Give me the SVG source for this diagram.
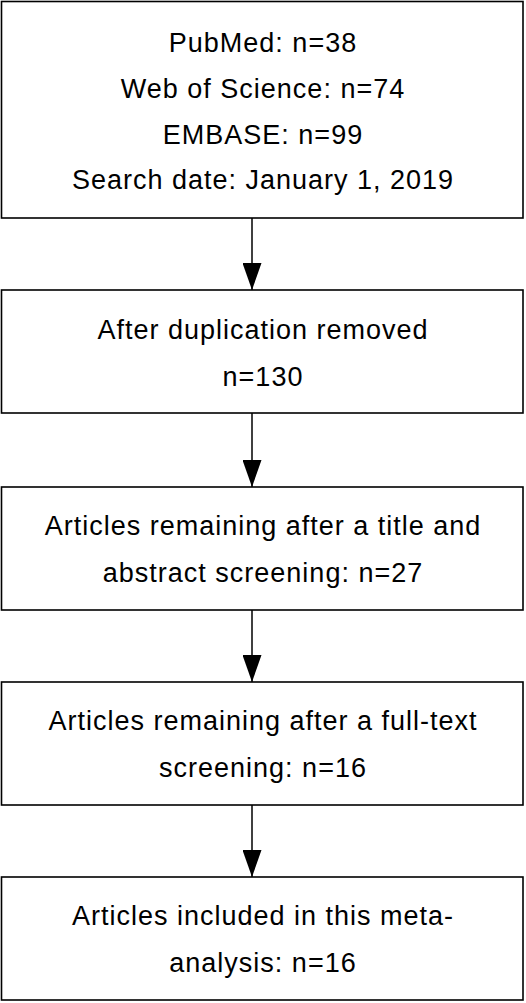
<svg xmlns="http://www.w3.org/2000/svg" width="526" height="1003" viewBox="0 0 526 1003">
<defs>
<style>
.box{fill:#fff;stroke:#000;stroke-width:1.6}
.t{font-family:"Liberation Sans",Arial,sans-serif;font-size:27px;letter-spacing:1px;fill:#000;text-anchor:middle}
.c{stroke:#000;stroke-width:1.5;fill:none}
</style>
<marker id="ah" markerUnits="userSpaceOnUse" markerWidth="27" markerHeight="19" refX="27" refY="9.5" orient="auto" viewBox="0 0 27 19">
<path d="M0,0 L27,9.5 L0,19 Z" fill="#000"/>
</marker>
</defs>
<rect width="526" height="1003" fill="#fff"/>
<g id="connectors">
<line class="c" x1="252" y1="218" x2="252" y2="290" marker-end="url(#ah)"/>
<line class="c" x1="252" y1="413" x2="252" y2="487" marker-end="url(#ah)"/>
<line class="c" x1="252" y1="610" x2="252" y2="682" marker-end="url(#ah)"/>
<line class="c" x1="252" y1="805" x2="252" y2="877" marker-end="url(#ah)"/>
</g>
<g id="n1">
<rect class="box" x="1.5" y="1.5" width="521.5" height="216.5"/>
<text class="t" x="263" y="52">PubMed: n=38</text>
<text class="t" x="263" y="98">Web of Science: n=74</text>
<text class="t" x="263" y="144">EMBASE: n=99</text>
<text class="t" x="263" y="189">Search date: January 1, 2019</text>
</g>
<g id="n2">
<rect class="box" x="1.5" y="290" width="521.5" height="123"/>
<text class="t" x="263" y="339">After duplication removed</text>
<text class="t" x="263" y="386">n=130</text>
</g>
<g id="n3">
<rect class="box" x="1.5" y="487" width="521.5" height="123"/>
<text class="t" x="263" y="535">Articles remaining after a title and</text>
<text class="t" x="263" y="582">abstract screening: n=27</text>
</g>
<g id="n4">
<rect class="box" x="1.5" y="682" width="521.5" height="123"/>
<text class="t" x="263" y="730">Articles remaining after a full-text</text>
<text class="t" x="263" y="777">screening: n=16</text>
</g>
<g id="n5">
<rect class="box" x="1.5" y="877" width="521.5" height="123"/>
<text class="t" x="263" y="925">Articles included in this meta-</text>
<text class="t" x="263" y="972">analysis: n=16</text>
</g>
</svg>
